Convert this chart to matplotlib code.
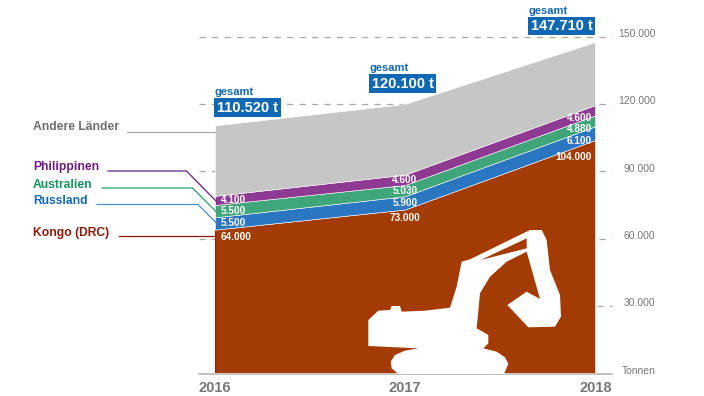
import matplotlib
matplotlib.use("Agg")
import matplotlib.pyplot as plt
from matplotlib.patches import Polygon, Rectangle
from matplotlib.transforms import Affine2D

years = [2016, 2017, 2018]
kongo = [64000, 73000, 104000]
russland = [5500, 5900, 6100]
australien = [5500, 5030, 4880]
philippinen = [4100, 4600, 4600]
gesamt = [110520, 120100, 147710]
andere = [g - k - r - a - p for g, k, r, a, p in zip(gesamt, kongo, russland, australien, philippinen)]
yticks = [30000, 60000, 90000, 120000, 150000]
kongo_labels = ["64.000", "73.000", "104.000"]
russland_labels = ["5.500", "5.900", "6.100"]
australien_labels = ["5.500", "5.030", "4.880"]
philippinen_labels = ["4.100", "4.600", "4.600"]
gesamt_labels = ["110.520 t", "120.100 t", "147.710 t"]
colors = ["#A33B03", "#2A76C0", "#3FA67A", "#8F3A92", "#C6C6C6"]

plt.rcParams["font.family"] = ["Liberation Sans", "DejaVu Sans"]
W, H = 704, 396
fig = plt.figure(figsize=(W / 100, H / 100), dpi=100)
L, R, T, B = 215, 595, 37, 373
ax = fig.add_axes([L / W, 1 - B / H, (R - L) / W, (B - T) / H])
ax.set_xlim(2016, 2018)
ax.set_ylim(0, 150000)
ax.axis("off")
px = Affine2D().scale(1 / W, -1 / H).translate(0, 1) + fig.transFigure

GRID = dict(transform=px, color="#A8A8A8", lw=0.9, dashes=(5, 5), zorder=0)
for v in yticks:
    y = B - (B - T) * v / 150000
    x0 = 597 if v == 30000 else 199
    fig.add_artist(plt.Line2D([x0, 612], [y, y], **GRID))
fig.add_artist(plt.Line2D([199, 612], [B + 0.5, B + 0.5], transform=px, color="#B5B5B5", lw=1.2, zorder=0))
for v in yticks:
    ax.annotate(f"{v:,}".replace(",", "."), (1, v / 150000), xycoords="axes fraction",
                xytext=(43.5, 2), textcoords="offset points", ha="right", va="center",
                fontsize=7.5, color="#777777", annotation_clip=False)
fig.text(622 / W, 1 - 371 / H, "Tonnen", fontsize=7.5, color="#777777", va="center")

ax.stackplot(years, kongo, russland, australien, philippinen, andere, colors=colors,
             edgecolor="white", linewidth=0.4, zorder=3)
ax.vlines([years[0], years[-1]], 0, [kongo[0], kongo[-1]], colors="#A01A08", lw=1, zorder=3.5)

# excavator silhouette (decorative), pixel outline
sil = [(55,300),(85,272),(120,270),(125,258),(150,258),(155,275),(225,272),(300,263),(320,200),(335,125),
       (360,118),(540,30),(575,30),(590,60),(600,150),(630,225),(633,290),(615,320),(535,322),
       (472,255),(530,215),(570,237),(530,95),(470,125),(420,170),(390,220),(380,325),(415,345),
       (415,370),(400,385),(440,395),(465,412),(475,432),(462,462),(145,462),(125,445),(122,425),(135,405),(165,392),(205,385),(55,378)]
slit = [(392,120),(530,55),(530,85)]
to_px = lambda pts: [(350 + x / 3, 220 + y / 3) for x, y in pts]
fig.add_artist(Polygon(to_px(sil), closed=True, transform=px, fc="white", ec="none", zorder=4))
fig.add_artist(Polygon(to_px(slit), closed=True, transform=px, fc=colors[0], ec="none", zorder=5))

# value labels
VAL = dict(textcoords="offset points", va="center", fontsize=7.2, fontweight="bold", color="white", zorder=6)
def label(i, y, txt):
    ha = ["left", "center", "right"][i]
    off = [(4, 0), (0, 0), (-2, -5.5)][i]
    ax.annotate(txt, (years[i], y), xytext=off, ha=ha, **VAL)
for i in range(3):
    k, r, a, p = kongo[i], russland[i], australien[i], philippinen[i]
    label(i, k + r / 2, russland_labels[i])
    label(i, k + r + a / 2, australien_labels[i])
    label(i, k + r + a + p / 2, philippinen_labels[i])
ax.annotate(kongo_labels[0], (2016, 64000), xytext=(4, -5), ha="left", **VAL)
ax.annotate(kongo_labels[1], (2017, 73000), xytext=(0, -6), ha="center", **VAL)
ax.annotate(kongo_labels[2], (2018, 104000), xytext=(-2, -12), ha="right", **VAL)

# total boxes
boxes = [(214, 98), (369, 74), (528, 16.5)]
for (x0, y0), lab in zip(boxes, gesamt_labels):
    fig.add_artist(Rectangle((x0, y0), 67, 18.5, transform=px, fc="#0F68B1", ec="none", zorder=7))
    fig.text((x0 + 33.5) / W, 1 - (y0 + 9.5) / H, lab, fontsize=10.5, fontweight="bold", color="white",
             ha="center", va="center", zorder=8)
    fig.text((x0 + 0.5) / W, 1 - (y0 - 6) / H, "gesamt", fontsize=8, fontweight="bold", color="#0F68B1",
             va="center", zorder=8)

# series legend with leader lines
names = ["Andere Länder", "Philippinen", "Australien", "Russland", "Kongo (DRC)"]
text_cols = ["#6E6E6E", "#6A1B7F", "#13945E", "#0F68B1", "#8B1A0A"]
line_cols = ["#A8A8A8", "#6A1B7F", "#2E9E6E", "#4A90CC", "#8B1A0A"]
ty = [127, 167, 185, 201, 233]
leaders = [[(127, 131.5), (215, 131.5)],
           [(108, 171), (186.5, 171), (216, 201)],
           [(102, 188), (192.5, 188), (216, 211.5)],
           [(97, 204.5), (198, 204.5), (216, 222.5)],
           [(119, 235.5), (215, 235.5)]]
for n, c, lc, y, pts in zip(names, text_cols, line_cols, ty, leaders):
    fig.text(33 / W, 1 - y / H, n, fontsize=8.7, fontweight="bold", color=c, va="center")
    fig.add_artist(plt.Line2D(*zip(*pts), transform=px, color=lc, lw=0.9, zorder=2))

# year labels
for i, (yr, ha) in enumerate(zip(years, ["left", "center", "right"])):
    ax.annotate(str(yr), (yr, 0), xytext=([-12, 0, 12][i], -11), textcoords="offset points", ha=ha, va="center",
                fontsize=10.5, fontweight="bold", color="#777777", annotation_clip=False)

fig.savefig("out.png", dpi=100)
